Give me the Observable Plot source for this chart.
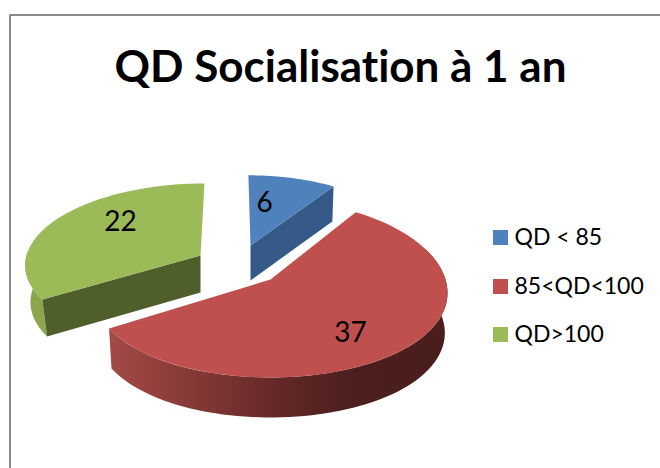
<!DOCTYPE html>
<html><head><meta charset="utf-8">
<script src="https://cdn.jsdelivr.net/npm/d3@7"></script>
<script src="https://cdn.jsdelivr.net/npm/@observablehq/plot@0.6"></script>
<style>html,body{margin:0;padding:0;background:#fff}svg{display:block}text{font-variant-ligatures:none}</style>
</head><body><div id="chart"></div>
<script>
const chartTitle = "QD Socialisation à 1 an";
const categories = ["QD < 85", "85<QD<100", "QD>100"];
const values = [6, 37, 22];
const topColors = ["#4f81bd", "#c0504d", "#9bbb59"];
const faceColors = ["#365a87", "none", "#4f5f2c"];

// projection of each exploded slice: apex, radius, foreshortening, perspective, shear, depth
const slices3d = [
  {cx: 250, cy: 245, R: 160, A: 73, k: 0.04, kx: 0.04, sh: -0.03, h: 35, bx: 0.985},
  {cx: 270, cy: 279, R: 175, A: 87.6, k: 0.106, kx: 0.15, sh: 0, h: 40, bx: 0.985},
  {cx: 200, cy: 255, R: 174, A: 79, k: 0.097, kx: 0.097, sh: 0.055, h: 37, bx: 0.97}
];
const labelPos = [[264, 203], [350, 333], [120, 222]];
const font = "Lato, Carlito, sans-serif";

const arcs = d3.pie().sort(null)(values);
function pt(s, t, bottom) {
  const u = Math.sin(t), v = Math.cos(t);
  let ry = -s.A * v / (1 + s.k * v), rx = s.R * u / (1 + s.kx * v) - s.sh * ry;
  if (bottom) { rx *= s.bx; ry += s.h; }
  return {x: s.cx + rx, y: s.cy + ry};
}
function rim(s, a0, a1, bottom) {
  const n = 80;
  return d3.range(n + 1).map(i => pt(s, a0 + (a1 - a0) * i / n, bottom));
}
const apex = (s, bottom) => ({x: s.cx, y: s.cy + (bottom ? s.h : 0)});
const topFace = i => [apex(slices3d[i]), ...rim(slices3d[i], arcs[i].startAngle, arcs[i].endAngle)];
const side = (i, a0, a1) => [...rim(slices3d[i], a0, a1), ...rim(slices3d[i], a1, a0, true)];
const face = (i, a) => [apex(slices3d[i]), pt(slices3d[i], a), pt(slices3d[i], a, true), apex(slices3d[i], true)];
const poly = (rows, fill) => Plot.line(rows, {x: "x", y: "y", fill, stroke: "none"});

const gradient = () => {
  const ns = "http://www.w3.org/2000/svg";
  const g = document.createElementNS(ns, "g");
  const defs = document.createElementNS(ns, "defs");
  const lg = document.createElementNS(ns, "linearGradient");
  lg.setAttribute("id", "redSide");
  lg.setAttribute("gradientUnits", "userSpaceOnUse");
  lg.setAttribute("x1", 109); lg.setAttribute("x2", 448);
  lg.setAttribute("y1", 0); lg.setAttribute("y2", 0);
  [[0, "#a34a47"], [0.3, "#7f3533"], [0.5, "#632827"], [0.72, "#4c1f1e"], [1, "#4a1e1d"]].forEach(([o, c]) => {
    const st = document.createElementNS(ns, "stop");
    st.setAttribute("offset", o); st.setAttribute("stop-color", c);
    lg.appendChild(st);
  });
  defs.appendChild(lg); g.appendChild(defs);
  return g;
};

const legendRows = categories.map((c, i) => ({c, i}));
const legendY = [237.5, 286.5, 334.5];

const plot = Plot.plot({
  width: 660, height: 468, margin: 0,
  x: {domain: [0, 660], range: [0, 660], axis: null},
  y: {domain: [0, 468], range: [0, 468], axis: null},
  marks: [
    gradient,
    Plot.line([{x: 9.5, y: 468}, {x: 9.5, y: 14.5}, {x: 660, y: 14.5}], {x: "x", y: "y", stroke: "#8a8a8a", strokeWidth: 2, strokeLinejoin: "miter"}),
    // green
    poly(side(2, arcs[2].startAngle, 4.75), "#8ba64f"),
    poly(face(2, arcs[2].startAngle), faceColors[2]),
    poly(topFace(2), topColors[2]),
    // blue
    poly(face(0, arcs[0].endAngle), faceColors[0]),
    poly(topFace(0), topColors[0]),
    // red
    poly(side(1, 1.2, arcs[1].endAngle), "url(#redSide)"),
    poly(topFace(1), topColors[1]),
    // data labels
    Plot.text(values.map((v, i) => ({v, x: labelPos[i][0], y: labelPos[i][1]})), {
      x: "x", y: "y", text: d => String(d.v), fontSize: 28, fontFamily: font, fill: "#000"
    }),
    // title
    Plot.text([chartTitle], {x: () => 340, y: () => 67, text: d => d, fontSize: 44, fontWeight: "bold", fontFamily: font, fill: "#000"}),
    // legend
    Plot.rect(legendRows, {x1: () => 493, x2: () => 508, y1: d => legendY[d.i] - 7.5, y2: d => legendY[d.i] + 7.5, fill: d => topColors[d.i]}),
    Plot.text(legendRows, {x: () => 514, y: d => legendY[d.i], text: "c", textAnchor: "start", fontSize: 23, fontFamily: font, fill: "#000"})
  ]
});
plot.style.background = "#fff";
document.getElementById("chart").appendChild(plot);
</script></body></html>
